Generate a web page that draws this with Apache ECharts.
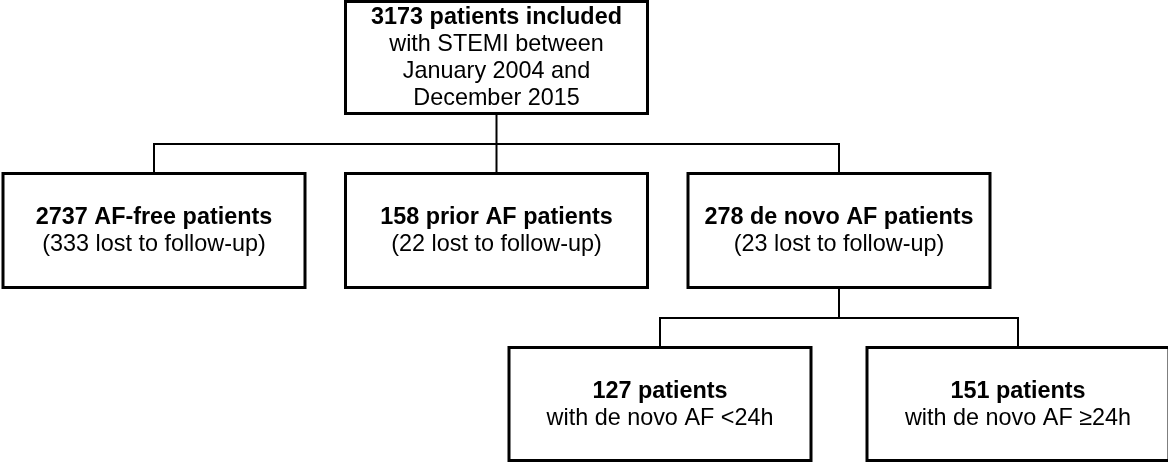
<!DOCTYPE html>
<html>
<head>
<meta charset="utf-8">
<script src="https://cdn.jsdelivr.net/npm/echarts@6/dist/echarts.min.js"></script>
<style>
  html, body { margin: 0; padding: 0; background: #fff; }
  #chart { width: 1168px; height: 462px; }
</style>
</head>
<body>
<div id="chart"></div>
<script>
// ---- data ----
const nodeTitles = [
  '3173 patients included',
  '2737 AF-free patients',
  '158 prior AF patients',
  '278 de novo AF patients',
  '127 patients',
  '151 patients'
];
const nodeSubtitles = [
  ['with STEMI between', 'January 2004 and', 'December 2015'],
  ['(333 lost to follow-up)'],
  ['(22 lost to follow-up)'],
  ['(23 lost to follow-up)'],
  ['with de novo AF <24h'],
  ['with de novo AF \u226524h']
];
const nodeParents = [-1, 0, 0, 0, 3, 3];

// ---- layout (style) ----
const W = 1168, H = 462;
const BOX_W = 302;
const ROW_TOP = [1.5, 173.5, 347.5];
const ROW_H = [112, 114, 113];
const LEVEL_SPACING = [0, 342.5, 358];
const ROOT_X = 496.5;
const FONT = '"Liberation Sans", Arial, Helvetica, sans-serif';
const FONT_SIZE = 23.4;
const LINE_H = 27;

// compute tree layout
const levels = nodeParents.map(function (p, i) {
  let l = 0, c = i;
  while (nodeParents[c] !== -1) { c = nodeParents[c]; l++; }
  return l;
});
const children = nodeParents.map(function (_, i) {
  return nodeParents.map(function (p, j) { return p === i ? j : -1; }).filter(function (j) { return j >= 0; });
});
const xs = new Array(nodeTitles.length);
(function place(i, x) {
  xs[i] = x;
  const ch = children[i];
  ch.forEach(function (c, k) {
    place(c, x + (k - (ch.length - 1) / 2) * LEVEL_SPACING[levels[c]]);
  });
})(0, ROOT_X);

const nodeData = nodeTitles.map(function (t, i) { return [xs[i], levels[i], i]; });
const linkData = children.map(function (ch, i) { return [xs[i], levels[i], i]; })
  .filter(function (d) { return children[d[2]].length > 0; });

const chart = echarts.init(document.getElementById('chart'), null, { renderer: 'canvas' });

chart.setOption({
  backgroundColor: '#ffffff',
  animation: false,
  grid: { left: 0, right: 0, top: 0, bottom: 0 },
  xAxis: { type: 'value', min: 0, max: W, show: false },
  yAxis: { type: 'value', min: 0, max: H, inverse: true, show: false },
  series: [
    {
      type: 'custom',
      clip: false,
      data: linkData,
      renderItem: function (params, api) {
        const i = api.value(2);
        const lvl = api.value(1);
        const px = api.value(0);
        const ch = children[i];
        const bottom = ROW_TOP[lvl] + ROW_H[lvl];
        const childTop = ROW_TOP[lvl + 1];
        const midY = Math.round((bottom + childTop) / 2);
        const els = [];
        const style = { stroke: '#000', lineWidth: 2 };
        let p1 = api.coord([px, bottom]), p2 = api.coord([px, midY]);
        els.push({ type: 'line', shape: { x1: p1[0], y1: p1[1], x2: p2[0], y2: p2[1] }, style: style });
        const xFirst = xs[ch[0]], xLast = xs[ch[ch.length - 1]];
        p1 = api.coord([xFirst, midY]); p2 = api.coord([xLast, midY]);
        els.push({ type: 'line', shape: { x1: p1[0] - 1, y1: p1[1], x2: p2[0] + 1, y2: p2[1] }, style: style });
        ch.forEach(function (c) {
          const a = api.coord([xs[c], midY]), b = api.coord([xs[c], childTop]);
          els.push({ type: 'line', shape: { x1: a[0], y1: a[1], x2: b[0], y2: b[1] }, style: style });
        });
        return { type: 'group', children: els };
      }
    },
    {
      type: 'custom',
      clip: false,
      data: nodeData,
      renderItem: function (params, api) {
        const cx = api.value(0);
        const lvl = api.value(1);
        const i = api.value(2);
        const tl = api.coord([cx - BOX_W / 2, ROW_TOP[lvl]]);
        const br = api.coord([cx + BOX_W / 2, ROW_TOP[lvl] + ROW_H[lvl]]);
        const lines = ['{b|' + nodeTitles[i] + '}'].concat(nodeSubtitles[i].map(function (s) { return '{n|' + s + '}'; }));
        return {
          type: 'group',
          children: [
            {
              type: 'rect',
              shape: { x: tl[0], y: tl[1], width: br[0] - tl[0], height: br[1] - tl[1] },
              style: { fill: '#fff', stroke: '#000', lineWidth: 3 }
            },
            {
              type: 'text',
              style: {
                x: (tl[0] + br[0]) / 2,
                y: (tl[1] + br[1]) / 2 + 1,
                text: lines.join('\n'),
                align: 'center',
                verticalAlign: 'middle',
                fill: '#000',
                rich: {
                  b: { fontFamily: FONT, fontSize: FONT_SIZE, fontWeight: 'bold', lineHeight: LINE_H, fill: '#000', align: 'center' },
                  n: { fontFamily: FONT, fontSize: FONT_SIZE, fontWeight: 'normal', lineHeight: LINE_H, fill: '#000', align: 'center' }
                }
              }
            }
          ]
        };
      }
    }
  ]
});
</script>
</body>
</html>
